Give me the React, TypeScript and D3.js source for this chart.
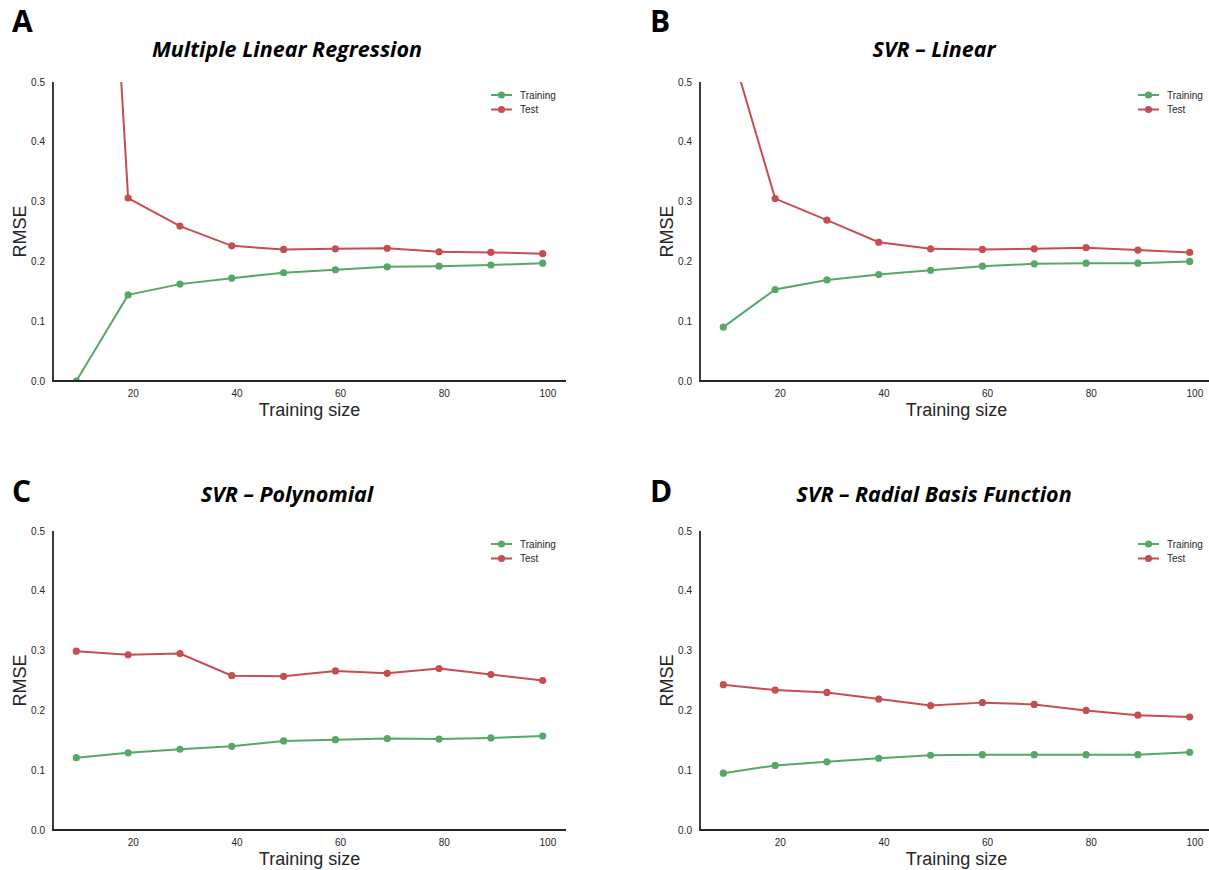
import React from "react";
import * as d3 from "d3";

// Training-set sizes shared by all four learning curves
const trainingSizes = [9, 19, 29, 39, 49, 59, 69, 79, 89, 99];

// RMSE per model: training and test curves
const mlrTraining = [0.0, 0.144, 0.162, 0.172, 0.181, 0.186, 0.191, 0.192, 0.194, 0.197];
const mlrTest = [1.77, 0.306, 0.259, 0.226, 0.22, 0.221, 0.222, 0.216, 0.215, 0.213];

const linTraining = [0.09, 0.153, 0.169, 0.178, 0.185, 0.192, 0.196, 0.197, 0.197, 0.2];
const linTest = [0.6, 0.305, 0.269, 0.232, 0.221, 0.22, 0.221, 0.223, 0.219, 0.215];

const polyTraining = [0.121, 0.129, 0.135, 0.14, 0.149, 0.151, 0.153, 0.152, 0.154, 0.157];
const polyTest = [0.299, 0.293, 0.295, 0.258, 0.257, 0.266, 0.262, 0.27, 0.26, 0.25];

const rbfTraining = [0.095, 0.108, 0.114, 0.12, 0.125, 0.126, 0.126, 0.126, 0.126, 0.13];
const rbfTest = [0.243, 0.234, 0.23, 0.219, 0.208, 0.213, 0.21, 0.2, 0.192, 0.189];

const panelLetters = ["A", "B", "C", "D"];
const panelTitles = [
  "Multiple Linear Regression",
  "SVR \u2013 Linear",
  "SVR \u2013 Polynomial",
  "SVR \u2013 Radial Basis Function",
];
const seriesNames = ["Training", "Test"];
const xTicks = [20, 40, 60, 80, 100];
const yTicks = [0, 0.1, 0.2, 0.3, 0.4, 0.5];

const GREEN = "#55a868";
const RED = "#c44e52";
const INK = "#262626";

const panels = [
  { training: mlrTraining, test: mlrTest },
  { training: linTraining, test: linTest },
  { training: polyTraining, test: polyTest },
  { training: rbfTraining, test: rbfTest },
];

// Layout of each subplot (plot-area origin)
const colLeft = [53, 700];
const rowTop = [82, 531];
const plotW = 513;
const plotH = 299;

function Panel({ idx }: { idx: number }) {
  const col = idx % 2;
  const row = Math.floor(idx / 2);
  const left = colLeft[col];
  const top = rowTop[row];
  const x = d3.scaleLinear().domain([4.5, 103.5]).range([left, left + plotW]);
  const y = d3.scaleLinear().domain([0, 0.5]).range([top + plotH, top]);
  const line = d3
    .line<number>()
    .x((_, i) => x(trainingSizes[i]))
    .y((d) => y(d));
  const clipId = `clip-${idx}`;
  const p = panels[idx];
  const series = [
    { name: seriesNames[0], values: p.training, color: GREEN },
    { name: seriesNames[1], values: p.test, color: RED },
  ];
  const titleCx = left + 234;
  const legendX = left + 438;
  const legendY = top + 13;

  return (
    <g>
      <defs>
        <clipPath id={clipId}>
          <rect x={left} y={top} width={plotW} height={plotH} />
        </clipPath>
      </defs>
      <text
        x={12 + col * 638}
        y={row === 0 ? 32 : 502}
        fontFamily="'Open Sans', sans-serif"
        fontWeight={700}
        fontSize={30}
        fill="#000"
      >
        {panelLetters[idx]}
      </text>
      <text
        x={titleCx}
        y={row === 0 ? 57 : 502}
        textAnchor="middle"
        fontFamily="'Open Sans', sans-serif"
        fontWeight={700}
        fontStyle="italic"
        fontSize={21.5}
        fill="#000"
      >
        {panelTitles[idx]}
      </text>
      <g clipPath={`url(#${clipId})`}>
        {series.map((s) => (
          <g key={s.name}>
            <path d={line(s.values) ?? ""} fill="none" stroke={s.color} strokeWidth={2} />
            {s.values.map((v, i) => (
              <circle key={i} cx={x(trainingSizes[i])} cy={y(v)} r={3.6} fill={s.color} />
            ))}
          </g>
        ))}
      </g>
      {/* spines */}
      <line x1={left} x2={left} y1={top} y2={top + plotH} stroke={INK} strokeWidth={1.8} />
      <line x1={left - 0.9} x2={left + plotW} y1={top + plotH} y2={top + plotH} stroke={INK} strokeWidth={1.8} />
      {/* tick labels */}
      {yTicks.map((t) => (
        <text
          key={t}
          x={left - 8}
          y={y(t)}
          dy="0.35em"
          textAnchor="end"
          fontFamily="'Liberation Sans', Arial, sans-serif"
          fontSize={10}
          fill={INK}
        >
          {d3.format(".1f")(t)}
        </text>
      ))}
      {xTicks.map((t) => (
        <text
          key={t}
          x={x(t)}
          y={top + plotH + 16}
          textAnchor="middle"
          fontFamily="'Liberation Sans', Arial, sans-serif"
          fontSize={10}
          fill={INK}
        >
          {t}
        </text>
      ))}
      {/* axis labels */}
      <text
        transform={`translate(${left - 27},${top + plotH / 2}) rotate(-90)`}
        textAnchor="middle"
        fontFamily="'Liberation Sans', Arial, sans-serif"
        fontSize={18}
        fill={INK}
      >
        RMSE
      </text>
      <text
        x={left + plotW / 2}
        y={top + plotH + 35}
        textAnchor="middle"
        fontFamily="'Liberation Sans', Arial, sans-serif"
        fontSize={18}
        fill={INK}
      >
        Training size
      </text>
      {/* legend */}
      {series.map((s, i) => (
        <g key={s.name}>
          <line
            x1={legendX}
            x2={legendX + 21}
            y1={legendY + i * 14.5}
            y2={legendY + i * 14.5}
            stroke={s.color}
            strokeWidth={2}
          />
          <circle cx={legendX + 10.5} cy={legendY + i * 14.5} r={3.6} fill={s.color} />
          <text
            x={legendX + 29}
            y={legendY + i * 14.5}
            dy="0.35em"
            fontFamily="'Liberation Sans', Arial, sans-serif"
            fontSize={10}
            fill={INK}
          >
            {s.name}
          </text>
        </g>
      ))}
    </g>
  );
}

export default function App() {
  return (
    <svg
      width={1209}
      height={870}
      style={{ position: "absolute", left: 0, top: 0, background: "#fff" }}
    >
      <rect width={1209} height={870} fill="#fff" />
      {panels.map((_, i) => (
        <Panel key={i} idx={i} />
      ))}
    </svg>
  );
}
